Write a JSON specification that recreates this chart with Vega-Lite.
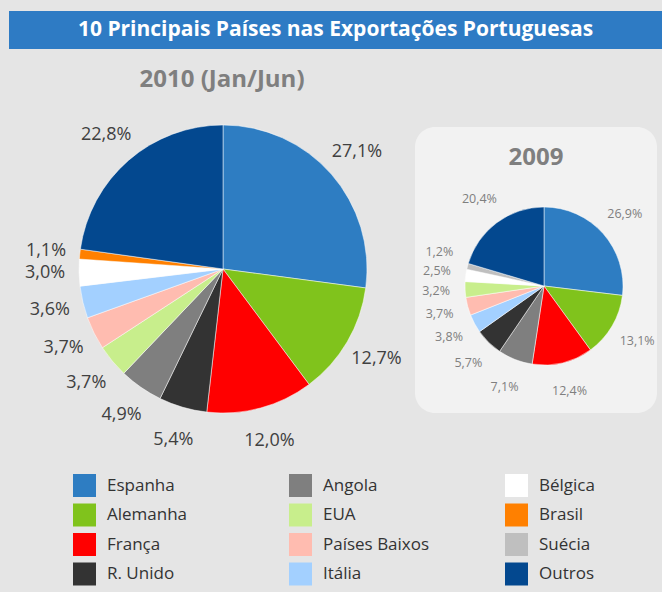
{
  "$schema": "https://vega.github.io/schema/vega-lite/v6.json",
  "background": "#E5E5E5",
  "padding": {"left": 9, "top": 11, "right": 0, "bottom": 10},
  "config": {
    "locale": {"number": {"decimal": ",", "thousands": ".", "grouping": [3], "currency": ["", " €"]}},
    "font": "Open Sans",
    "view": {"stroke": null}
  },
  "bounds": "flush",
  "spacing": 78,
  "vconcat": [
    {
      "width": 653,
      "height": 38,
      "view": {"fill": "#2E7BC4", "stroke": null},
      "data": {"values": [{"titulo": "10 Principais Países nas Exportações Portuguesas"}]},
      "mark": {"type": "text", "color": "#FFFFFF", "fontSize": 21, "fontWeight": "bold", "font": "Open Sans", "baseline": "middle"},
      "encoding": {"text": {"field": "titulo", "type": "nominal"}}
    },
    {
      "bounds": "flush",
      "spacing": 0,
      "resolve": {"scale": {"theta": "independent"}},
      "hconcat": [
        {
          "width": 406,
          "height": 284,
          "title": {"text": "2010 (Jan/Jun)", "fontSize": 24, "fontWeight": "bold", "color": "#7F7F7F", "offset": 32, "anchor": "middle", "dx": 10, "font": "Open Sans"},
          "data": {"values": [
            {"pais": "Espanha", "quota": 0.271},
            {"pais": "Alemanha", "quota": 0.127},
            {"pais": "França", "quota": 0.120},
            {"pais": "R. Unido", "quota": 0.054},
            {"pais": "Angola", "quota": 0.049},
            {"pais": "EUA", "quota": 0.037},
            {"pais": "Países Baixos", "quota": 0.037},
            {"pais": "Itália", "quota": 0.036},
            {"pais": "Bélgica", "quota": 0.030},
            {"pais": "Brasil", "quota": 0.011},
            {"pais": "Outros", "quota": 0.228}
          ]},
          "transform": [{"window": [{"op": "row_number", "as": "ordem"}]}],
          "encoding": {
            "theta": {"field": "quota", "type": "quantitative", "stack": true},
            "order": {"field": "ordem", "type": "quantitative"}
          },
          "layer": [
            {
              "mark": {"type": "arc", "outerRadius": 144, "stroke": "#FFFFFF", "strokeWidth": 0.5, "xOffset": 11},
              "encoding": {
                "color": {
                  "field": "pais",
                  "type": "nominal",
                  "scale": {
                    "domain": ["Espanha", "Alemanha", "França", "R. Unido", "Angola", "EUA", "Países Baixos", "Itália", "Bélgica", "Brasil", "Suécia", "Outros"],
                    "range": ["#2E7DC2", "#80C31C", "#FF0000", "#333333", "#7F7F7F", "#C8EE8C", "#FFBCB0", "#A3D0FF", "#FFFFFF", "#FF8000", "#BFBFBF", "#03488F"]
                  },
                  "legend": {
                    "title": null,
                    "orient": "none",
                    "legendX": 64,
                    "legendY": 463,
                    "columns": 3,
                    "direction": "vertical",
                    "gridAlign": "all",
                    "columnPadding": 75,
                    "rowPadding": 6.5,
                    "symbolType": "square",
                    "symbolSize": 529,
                    "symbolStrokeWidth": 0,
                    "labelFontSize": 17,
                    "labelFont": "Open Sans",
                    "labelColor": "#333333",
                    "labelOffset": 11,
                    "padding": 0
                  }
                }
              }
            },
            {
              "mark": {"type": "text", "radius": 178, "fontSize": 18, "font": "Open Sans", "color": "#404040", "xOffset": 11},
              "encoding": {
                "detail": {"field": "pais", "type": "nominal"},
                "text": {"field": "quota", "type": "quantitative", "format": ".1%"}
              }
            }
          ]
        },
        {
          "width": 242,
          "height": 286,
          "view": {"fill": "#F2F2F2", "stroke": null, "cornerRadius": 20},
          "title": {"text": "2009", "fontSize": 24, "fontWeight": "bold", "color": "#7F7F7F", "offset": -43, "anchor": "middle", "font": "Open Sans"},
          "data": {"values": [
            {"pais": "Espanha", "quota": 0.269},
            {"pais": "Alemanha", "quota": 0.131},
            {"pais": "França", "quota": 0.124},
            {"pais": "Angola", "quota": 0.071},
            {"pais": "R. Unido", "quota": 0.057},
            {"pais": "Itália", "quota": 0.038},
            {"pais": "Países Baixos", "quota": 0.037},
            {"pais": "EUA", "quota": 0.032},
            {"pais": "Bélgica", "quota": 0.025},
            {"pais": "Suécia", "quota": 0.012},
            {"pais": "Outros", "quota": 0.204}
          ]},
          "transform": [{"window": [{"op": "row_number", "as": "ordem"}]}],
          "encoding": {
            "theta": {"field": "quota", "type": "quantitative", "stack": true},
            "order": {"field": "ordem", "type": "quantitative"}
          },
          "layer": [
            {
              "mark": {"type": "arc", "outerRadius": 79, "stroke": "#FFFFFF", "strokeWidth": 0.5, "xOffset": 8, "yOffset": 16},
              "encoding": {
                "color": {"field": "pais", "type": "nominal"}
              }
            },
            {
              "mark": {"type": "text", "radius": 108, "fontSize": 12.5, "font": "Open Sans", "color": "#7F7F7F", "xOffset": 8, "yOffset": 16, "baseline": "middle"},
              "encoding": {
                "detail": {"field": "pais", "type": "nominal"},
                "text": {"condition": {"test": "datum.pais === 'Suécia'", "value": ""}, "field": "quota", "type": "quantitative", "format": ".1%"}
              }
            },
            {
              "mark": {"type": "text", "radius": 108, "fontSize": 12.5, "font": "Open Sans", "color": "#7F7F7F", "xOffset": 8, "yOffset": 16, "baseline": "bottom"},
              "encoding": {
                "detail": {"field": "pais", "type": "nominal"},
                "text": {"condition": {"test": "datum.pais !== 'Suécia'", "value": ""}, "field": "quota", "type": "quantitative", "format": ".1%"}
              }
            }
          ]
        }
      ]
    }
  ]
}
